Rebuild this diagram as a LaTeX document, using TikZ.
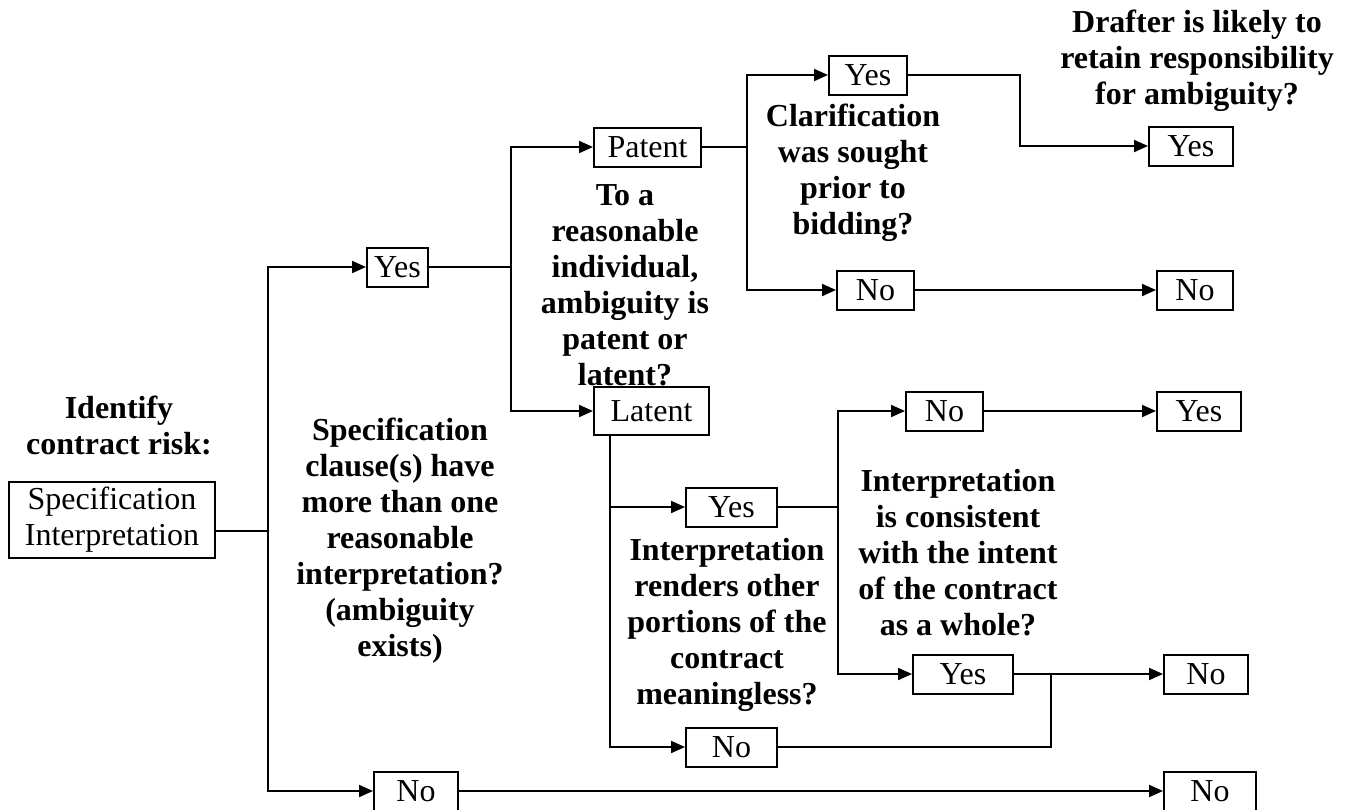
\documentclass[tikz,border=0pt]{standalone}
\usepackage{fontspec}
\setmainfont{Liberation Serif}
\usetikzlibrary{arrows.meta}
\begin{document}
\begin{tikzpicture}[x=0.5pt,y=-0.5pt,line width=1pt,>={Triangle[length=7pt,width=6pt]},
  ans/.style={draw,line width=1pt,minimum height=19.5pt,inner sep=1pt,font=\fontsize{16}{18}\selectfont},
  qtxt/.style={align=center,inner sep=0pt,font=\fontsize{16}{18}\selectfont\bfseries}]
\useasboundingbox (0,0) rectangle (1350,809);
% question texts
\node[qtxt] (ident) at (119,425) {Identify\\contract risk:};
\node[qtxt] (qamb) at (400,541) {Specification\\clause(s) have\\more than one\\reasonable\\interpretation?\\(ambiguity\\exists)};
\node[qtxt] (qpat) at (625,285) {To a\\reasonable\\individual,\\ambiguity is\\patent or\\latent?};
\node[qtxt] (qclar) at (853,173) {Clarification\\was sought\\prior to\\bidding?};
\node[qtxt] (qrend) at (727,625) {Interpretation\\renders other\\portions of the\\contract\\meaningless?};
\node[qtxt] (qcons) at (958,553) {Interpretation\\is consistent\\with the intent\\of the contract\\as a whole?};
\node[qtxt] (qdraft) at (1197,61) {Drafter is likely to\\retain responsibility\\for ambiguity?};
% answer boxes
\node[ans,align=center,minimum width=103pt,minimum height=38pt] (spec) at (112,520) {Specification\\Interpretation};
\node[ans,minimum width=30.5pt] (yes1) at (397.5,267) {Yes};
\node[ans,minimum width=53.5pt] (patent) at (647.5,147) {Patent};
\node[ans,minimum width=57.5pt,minimum height=24pt] (latent) at (651.5,411) {Latent};
\node[ans,minimum width=39pt] (yes2) at (868,75) {Yes};
\node[ans,minimum width=38.5pt] (no2) at (875.5,290) {No};
\node[ans,minimum width=42pt] (yes3) at (1191,146) {Yes};
\node[ans,minimum width=38pt] (no3) at (1195,290) {No};
\node[ans,minimum width=45.5pt] (yes4) at (731.5,507) {Yes};
\node[ans,minimum width=45.5pt] (no4) at (731.5,747) {No};
\node[ans,minimum width=38.5pt] (no5) at (944.5,411) {No};
\node[ans,minimum width=50pt] (yes5) at (963,674) {Yes};
\node[ans,minimum width=42pt] (yes6) at (1199,411) {Yes};
\node[ans,minimum width=42pt] (no6) at (1206,674) {No};
\node[ans,minimum width=42pt] (no7) at (416,791) {No};
\node[ans,minimum width=46pt] (no8) at (1210,791) {No};
% connectors
\coordinate (j0) at (268,531);
\draw (spec.east |- j0) -- (j0);
\draw[->] (j0) |- (yes1);
\draw[->] (j0) |- (no7);
\draw[->] (no7) -- (no8);
\coordinate (j1) at (511,267);
\draw (yes1) -- (j1);
\draw[->] (j1) |- (patent);
\draw[->] (j1) |- (latent);
\coordinate (j2) at (747,147);
\draw (patent) -- (j2);
\draw[->] (j2) |- (yes2);
\draw[->] (j2) |- (no2);
\coordinate (k1) at (1020,75);
\draw[->] (yes2) -- (k1) |- (yes3);
\draw[->] (no2) -- (no3);
\coordinate (j3) at (610,435);
\draw[->] (j3) |- (yes4);
\draw[->] (j3) |- (no4);
\coordinate (j4) at (838,507);
\draw (yes4) -- (j4);
\draw[->] (j4) |- (no5);
\draw[->] (j4) |- (yes5);
\draw[->] (no5) -- (yes6);
\draw[->] (yes5) -- (no6);
\coordinate (j5) at (1051,674);
\draw (no4) -| (j5);
\end{tikzpicture}
\end{document}
